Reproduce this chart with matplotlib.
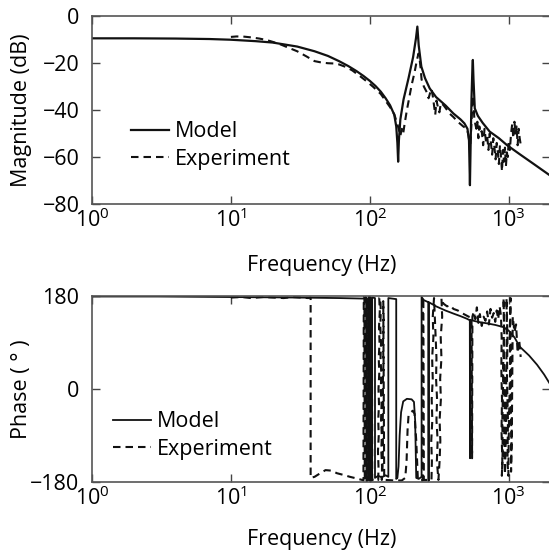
import matplotlib
matplotlib.use("Agg")
import matplotlib.pyplot as plt
from matplotlib.ticker import FixedLocator, NullLocator

plt.rcParams["font.family"] = ["Open Sans", "DejaVu Sans"]
plt.rcParams["font.size"] = 15.5

# --- Magnitude, model ---
mag_model_f = [1, 2, 4, 7, 10, 15, 20, 30, 40, 50, 60, 70, 80, 90, 100,
               110, 120, 130, 140, 150, 155, 158, 160, 162, 166, 175, 190,
               205, 215, 220, 225, 235, 250, 270, 300, 350, 400, 450, 480,
               505, 518, 526, 532, 540, 548, 552, 558, 570, 600, 650, 730,
               850, 970, 1200, 1500, 2000]
mag_model_db = [-9.5, -9.5, -9.6, -9.8, -10.1, -10.7, -11.3, -13.0, -15.0,
                -17.0, -19.2, -21.3, -23.4, -25.5, -27.6, -29.8, -32.2,
                -35.0, -38.0, -42, -47, -54, -62, -53, -44, -35.5, -26.5,
                -17.5, -9.5, -4.5, -12.5, -21.5, -26.5, -30.8, -34.5, -38,
                -41.5, -44, -45.7, -48, -53, -72, -55, -35, -22, -18.7, -27,
                -39.3, -42.5, -45.5, -49.2, -52, -54.9, -58.8, -62.8, -68]

# --- Magnitude, experiment ---
mag_exp_f = [10, 11, 12.5, 14, 16, 18, 20, 23, 26, 30,
             35, 40, 45, 50, 55, 60, 68, 75, 85, 95,
             106, 120, 140, 150, 158, 163, 166, 170, 174, 178,
             185, 192, 200, 210, 218, 224, 228, 232, 236, 245,
             255, 265, 271, 278, 284, 290, 296, 302, 310, 317,
             325, 340, 360, 375, 400, 430, 471, 500, 515, 526,
             535, 545, 552, 558, 565,
             575, 585, 595, 605, 615, 625, 640, 655, 670, 685,
             700, 715, 730, 745, 760, 775, 790, 805, 820, 835,
             850, 865, 880, 895, 910, 925, 940, 955, 970, 985,
             1000, 1020, 1040, 1060, 1080, 1100, 1120, 1140, 1160, 1180,
             1200, 1230]
mag_exp_db = [-8.9, -8.7, -8.8, -9.1, -9.6, -10.2, -11.0, -12.2, -13.5, -15.0,
              -17.2, -19.2, -19.8, -20.1, -20.2, -20.6, -21.8, -23.2, -25.6, -27.8,
              -30.2, -33.2, -38.8, -41.8, -46, -49, -51, -48, -50, -46,
              -40, -35, -29.4, -24, -19, -16, -18, -22, -27, -30,
              -32, -35, -33, -31, -34, -38, -42, -36, -39, -41,
              -37, -38, -40, -41.5, -43, -45, -47, -48, -51, -57,
              -50, -40, -34, -37, -43,
              -46, -48, -45, -52, -47, -50, -49, -55, -48, -53,
              -51, -57, -50, -54, -59, -52, -56, -61, -54, -58,
              -63, -55, -60, -66, -57, -62, -56, -64, -58, -60,
              -53, -57, -50, -46, -52, -45, -50, -47, -55, -48,
              -52, -56]

# --- Phase, model ---
ph_model_f = [1, 3, 10, 30, 60, 90, 95, 95, 98, 98,
              101, 101, 104, 104, 109, 109, 115, 122, 130, 136,
              136, 145, 155, 155, 158, 161, 164, 168, 174, 185,
              200, 208, 212, 216, 225, 236, 236, 245, 264, 265,
              266, 300, 350, 400, 450, 500, 525, 527, 529, 540,
              600, 700, 800, 910, 1000, 1100, 1200, 1400, 1600, 1800,
              2000]
ph_model_deg = [179, 179, 178, 177, 176, 175, 174, -178, -176, 178,
                177, -178, -177, 177, 176, -172, -168, -171, -167, -170,
                176, 175, 174, -174, -172, -150, -90, -45, -24, -19,
                -20, -25, -60, -172, -174, -170, 178, 172, 168, -178,
                168, 160, 152, 146, 141, 136, 133, -134, 134, 133,
                130, 127, 124, 120, 113, 100, 82, 65, 47, 28,
                8]

# --- Phase, experiment ---
ph_exp_f = [10, 12, 14, 17, 20, 24, 28, 32, 36, 37.5,
            37.5, 40, 44, 48, 53, 58, 64, 72, 80, 88,
            90, 90.5, 91.5, 92, 93, 93.5, 94.5, 95, 96, 96.5,
            97.5, 98, 99, 99.5, 100.5, 101, 102, 102.5, 103.5, 104,
            108, 113, 115, 115.5, 114.5, 116, 115, 116.5, 115.5, 117,
            116, 117.5, 116.5, 118, 117, 119, 120, 119, 120.5, 119.5,
            121, 120, 121.5, 120.5, 122, 121, 122.5, 122, 123.5, 124.5,
            123.5, 125, 124, 125.5, 124.5, 126, 125, 127, 130, 150,
            170, 180, 184, 187, 190, 196, 204, 210, 216, 222,
            230, 240, 241, 243, 245, 278, 280, 277, 282, 279,
            284, 281, 287, 284, 290, 294, 298, 302, 300, 305,
            302, 308, 304, 312, 318, 322, 318, 325, 321, 328,
            324, 332, 328, 335, 340, 360, 380, 400, 430, 460,
            490, 515, 540, 545, 548, 560, 575, 590, 605, 620,
            640, 660, 680, 700, 720, 740, 760, 780, 800, 820,
            840, 860, 880, 890, 885, 895, 888, 900, 893, 905,
            900, 910, 915, 925, 918, 930, 923, 935, 928, 940,
            950, 965, 958, 972, 964, 980, 972, 988, 980, 995,
            1000, 1010, 1025, 1018, 1032, 1025, 1040, 1032, 1048, 1040,
            1055, 1070, 1100, 1130, 1160, 1190, 1220]
ph_exp_deg = [177, 178, 176, 178, 177, 176, 178, 177, 176, 177,
              -172, -170, -163, -157, -158, -163, -166, -170, -173, -176,
              -177, 178, 176, -178, -176, 178, 176, -178, -176, 178,
              176, -178, -176, 178, 176, -178, -176, 178, 176, -176,
              -175, -174, -176, -150, -120, -90, -60, -30, 0, 30,
              60, 90, 120, 150, 176, 177, 150, 120, 90, 60,
              30, 0, -30, -60, -90, -120, -150, -176, -150, -110,
              -70, -30, 10, 50, 90, 130, 170, -176, -176, -177,
              -177, -172, -140, -80, -52, -46, -42, -48, -100, -176,
              -177, -177, 177, 176, -176, -176, -140, -100, -60, -20,
              20, 60, 100, 140, 176, 140, 100, 60, 20, -20,
              -60, -100, -140, -176, -140, -100, -60, -20, 20, 60,
              100, 140, 176, 168, 165, 160, 162, 155, 152, 147,
              143, 140, 138, -134, 140, 150, 135, 158, 128, 145,
              122, 140, 132, 150, 125, 155, 138, 147, 130, 152,
              135, 160, 142, 100, 40, -20, -80, -140, -168, -120,
              -60, 0, 60, 120, 176, 110, 40, -30, -100, -165,
              -110, -40, 30, 100, 176, 100, 20, -60, -140, -168,
              -100, -30, 40, 110, 176, 120, 50, -20, -90, -160,
              -60, 140, 110, 125, 70, 95, 62]

x_ticks = [1, 10, 100, 1000]
mag_ticks = [0, -20, -40, -60, -80]
ph_ticks = [180, 0, -180]

W, H = 549, 555
fig = plt.figure(figsize=(W / 100, H / 100), dpi=100)
ax1 = fig.add_axes([92 / W, 1 - 204 / H, 458.5 / W, 188 / H])
ax2 = fig.add_axes([92 / W, 1 - 482 / H, 458.5 / W, 186 / H])

dash = (0, (3.6, 2.4))
ax1.plot(mag_model_f, mag_model_db, color="#111111", lw=1.6, label="Model")
ax1.plot(mag_exp_f, mag_exp_db, color="#111111", lw=1.5, ls=dash,
         label="Experiment")
ax2.plot(ph_model_f, ph_model_deg, color="#111111", lw=1.3, label="Model")
ax2.plot(ph_exp_f, ph_exp_deg, color="#111111", lw=1.5, ls=dash,
         label="Experiment")

for ax in (ax1, ax2):
    ax.set_xscale("log")
    ax.set_xlim(1, 2000)
    ax.xaxis.set_major_locator(FixedLocator(x_ticks))
    ax.xaxis.set_minor_locator(NullLocator())
    ax.tick_params(direction="in", length=6, width=1, top=True, right=True,
                   color="#444444")
    ax.tick_params(axis="x", pad=3)
    ax.tick_params(axis="y", pad=9)
    for s in ax.spines.values():
        s.set_color("#555555")
        s.set_linewidth(1.2)
    # y label placed by hand so both panels line up like the original
    ax.yaxis.set_label_coords(-0.131, 0.5)

ax1.set_ylim(-80, 0)
ax1.set_yticks(mag_ticks)
ax1.set_ylabel("Magnitude (dB)")
ax1.set_xlabel("Frequency (Hz)", labelpad=17)
ax2.set_ylim(-180, 180)
ax2.set_yticks(ph_ticks)
ax2.set_ylabel("Phase ( ° )")
ax2.set_xlabel("Frequency (Hz)", labelpad=14)

leg_kw = dict(frameon=False, loc="center left", borderpad=0,
              borderaxespad=0, handlelength=1.75, handletextpad=0.3,
              labelspacing=0.3)
ax1.legend(bbox_to_anchor=(0.085, 0.31), **leg_kw)
ax2.legend(bbox_to_anchor=(0.046, 0.25), **leg_kw)

fig.savefig("out.png", dpi=100)
